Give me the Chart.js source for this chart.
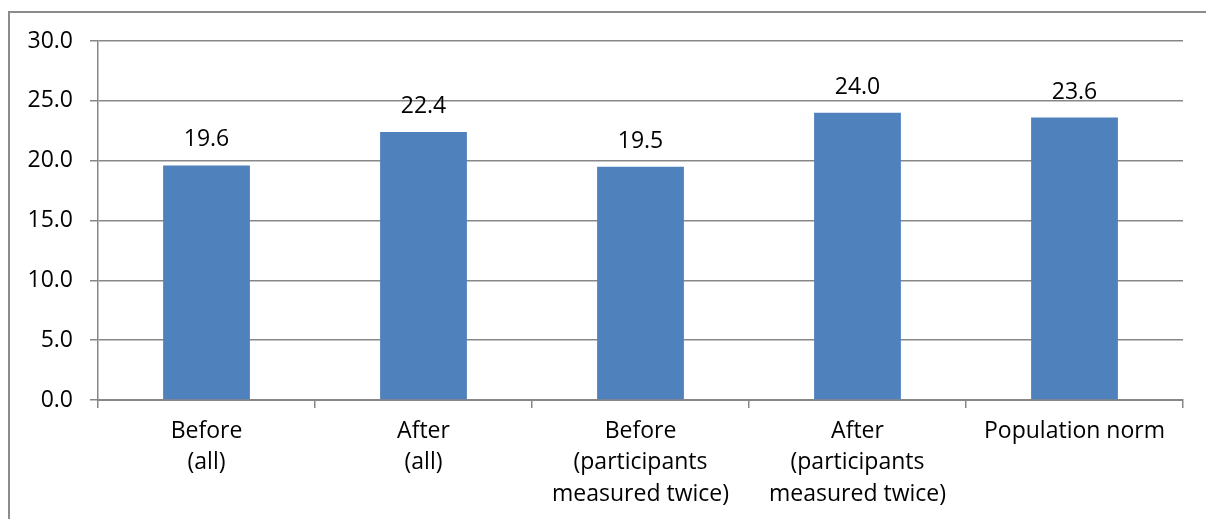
<!DOCTYPE html>
<html>
<head>
<meta charset="utf-8">
<script src="https://cdn.jsdelivr.net/npm/chart.js@4/dist/chart.umd.min.js"></script>
<style>
  html, body { margin: 0; padding: 0; background: #ffffff; }
  #wrap { position: relative; width: 1206px; height: 519px; }
</style>
</head>
<body>
<div id="wrap"><canvas id="c" width="1206" height="519"></canvas></div>
<script>
// Mean scores per group
const categories = [
  ['Before', '(all)'],
  ['After', '(all)'],
  ['Before', '(participants', 'measured twice)'],
  ['After', '(participants', 'measured twice)'],
  'Population norm'
];
const scores = [19.6, 22.4, 19.5, 24.0, 23.6];
const yTicks = [0, 5, 10, 15, 20, 25, 30];

const FONT = '"Open Sans", "Noto Sans", sans-serif';
const GRID = '#878787';

// Frame around the whole chart (runs past the right and bottom edges)
const framePlugin = {
  id: 'frame',
  beforeDraw(chart) {
    const ctx = chart.ctx;
    ctx.save();
    ctx.fillStyle = '#ffffff';
    ctx.fillRect(0, 0, chart.width, chart.height);
    ctx.strokeStyle = '#8c8c8c';
    ctx.lineWidth = 2;
    ctx.strokeRect(9, 12, chart.width + 20, chart.height + 20);
    ctx.restore();
  }
};

// Value labels above each bar
const valueLabels = {
  id: 'valueLabels',
  afterDatasetsDraw(chart) {
    const ctx = chart.ctx;
    const meta = chart.getDatasetMeta(0);
    ctx.save();
    ctx.font = '23px ' + FONT;
    ctx.fillStyle = '#000000';
    ctx.textAlign = 'center';
    ctx.textBaseline = 'alphabetic';
    meta.data.forEach((bar, i) => {
      ctx.fillText(scores[i].toFixed(1), bar.x, bar.y - 19);
    });
    ctx.restore();
  }
};

new Chart(document.getElementById('c'), {
  type: 'bar',
  data: {
    labels: categories,
    datasets: [{
      data: scores,
      backgroundColor: '#4F81BD',
      borderWidth: 0,
      categoryPercentage: 1.0,
      barPercentage: 0.4
    }]
  },
  options: {
    responsive: false,
    animation: false,
    devicePixelRatio: 1,
    layout: { padding: { top: 41, right: 23, left: 0, bottom: 0 } },
    plugins: {
      legend: { display: false },
      tooltip: { enabled: false }
    },
    scales: {
      x: {
        border: { display: true, color: GRID, width: 2 },
        grid: {
          display: true,
          drawOnChartArea: false,
          drawTicks: true,
          tickLength: 8,
          color: GRID,
          lineWidth: 1.5
        },
        ticks: {
          color: '#000000',
          font: { family: FONT, size: 23, lineHeight: 1.36 },
          padding: 8,
          maxRotation: 0,
          autoSkip: false
        },
        afterFit(scale) { scale.height = 119; }
      },
      y: {
        min: 0,
        max: 30,
        border: { display: true, color: GRID, width: 1.5 },
        grid: {
          color: GRID,
          lineWidth: 1.5,
          drawTicks: true,
          tickLength: 8
        },
        afterBuildTicks(scale) {
          scale.ticks = yTicks.map(v => ({ value: v }));
        },
        ticks: {
          color: '#000000',
          font: { family: FONT, size: 23 },
          padding: 17,
          callback: v => Number(v).toFixed(1)
        },
        afterFit(scale) { scale.width = 98; }
      }
    }
  },
  plugins: [framePlugin, valueLabels]
});
</script>
</body>
</html>
